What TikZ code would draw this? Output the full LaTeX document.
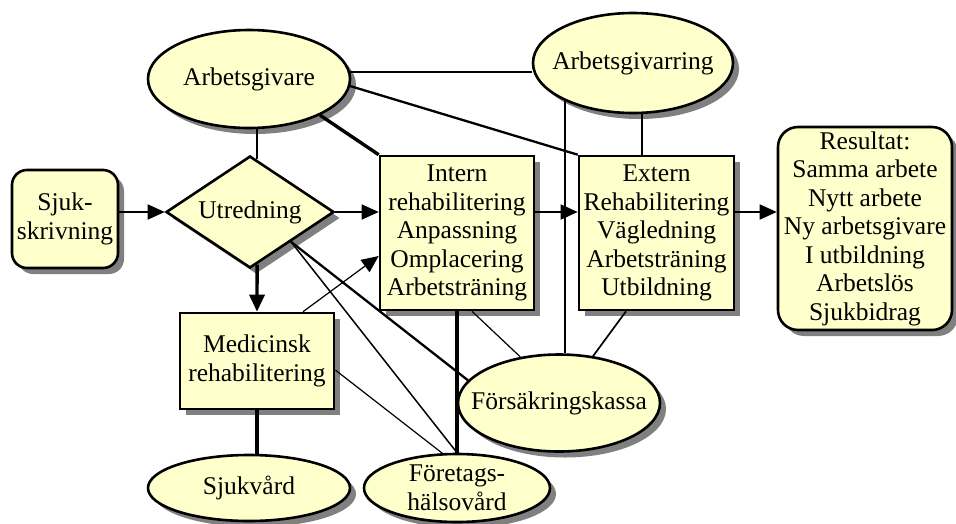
\documentclass[tikz,border=0pt]{standalone}
\usepackage{fontspec}
\setmainfont{Liberation Serif}
\usetikzlibrary{shapes.geometric,arrows.meta,shadows,calc}
\definecolor{fillc}{RGB}{255,255,204}
\begin{document}
\begin{tikzpicture}[x=1pt,y=-1pt,
  every node/.style={font=\fontsize{25.5}{28.5}\selectfont, align=center, inner sep=0pt},
  shapebase/.style={draw=black, line width=2.6pt, fill=fillc,
    drop shadow={shadow xshift=6pt, shadow yshift=-6pt, opacity=1, fill=black!50}},
  boxnode/.style={shapebase, rectangle},
  ellnode/.style={shapebase, ellipse, inner xsep=-50pt, inner ysep=-10pt},
  lthin/.style={line width=1.2pt},
  lnorm/.style={line width=1.7pt},
  lmid/.style={line width=2.3pt},
  lthick/.style={line width=3.4pt},
  arr/.style={-{Triangle[length=17pt,width=15pt]}},
]
\useasboundingbox (0,0) rectangle (956,523);

% nodes
\node[boxnode, rounded corners=15pt, minimum width=106pt, minimum height=98pt] (sjuk) at (65,219) {Sjuk-\\skrivning};
\node[shapebase, diamond, aspect=1.5, minimum width=168pt, minimum height=112pt] (utr) at (250,212) {Utredning};
\node[ellnode, minimum width=202pt, minimum height=98pt] (arbg) at (249,79) {Arbetsgivare};
\node[ellnode, minimum width=200pt, minimum height=100pt] (arbring) at (633,63) {Arbetsgivarring};
\node[boxnode, minimum width=154pt, minimum height=154pt] (intern) at (457,233) {Intern\\rehabilitering\\Anpassning\\Omplacering\\Arbetsträning};
\node[boxnode, minimum width=155pt, minimum height=154pt] (extern) at (656.5,233) {Extern\\Rehabilitering\\Vägledning\\Arbetsträning\\Utbildning};
\node[boxnode, rounded corners=20pt, minimum width=174pt, minimum height=203pt] (res) at (865,228.5) {Resultat:\\Samma arbete\\Nytt arbete\\Ny arbetsgivare\\I utbildning\\Arbetslös\\Sjukbidrag};
\node[boxnode, minimum width=154pt, minimum height=96pt] (med) at (257,361) {Medicinsk\\rehabilitering};
\node[ellnode, minimum width=202pt, minimum height=97pt] (fk) at (559,403) {Försäkringskassa};
\node[ellnode, minimum width=202pt, minimum height=66pt] (sjukv) at (249,488) {Sjukvård};
\node[ellnode, minimum width=186pt, minimum height=68pt] (fhv) at (457,488) {Företags-\\hälsovård};

% helper coordinates on borders
\coordinate (utrn) at ($(utr.north)!0.083!(utr.east)$);
\coordinate (utrs) at ($(utr.south)!0.083!(utr.east)$);
\coordinate (arb2) at ([xshift=9pt]arbring.south);

% main flow
\draw[lnorm,arr] (sjuk.east |- utr.west) -- (utr.west);
\draw[lnorm,arr] (utr.east) -- (utr.east -| intern.west);
\draw[lnorm,arr] (utr.east -| intern.east) -- (utr.east -| extern.west);
\draw[lnorm,arr] (utr.east -| extern.east) -- (utr.east -| res.west);
\draw[lthick,arr] (utrs) -- (med.north);

% Arbetsgivare links
\draw[lnorm] (utrn) -- (utrn |- arbg.south);
\draw[lthick] (arbg.-27) -- (intern.north west);
\draw[lnorm] (arbg.4) -- (arbg.4 -| arbring.west);
\draw[lmid] (arbg.-4.5) -- (extern.north west);

% Arbetsgivarring links
\draw[lnorm] (arbring.-151.6) -- (arbring.-151.6 |- fk.north);
\draw[lnorm] (arb2) -- (arb2 |- extern.north);

% lower links
\draw[lthick] (intern.south) -- (fhv.north);
\draw[lthick] (med.south) -- (med.south |- sjukv.north);
\draw[lthin] ([yshift=-9pt]med.east) -- (fhv.113);
\draw[line width=1.5pt] (utr.-36.9) -- (fhv.north);
\draw[lmid] (utr.-36.9) -- (fk.166);
\draw[lthin,arr] ([xshift=46pt]med.north) -- ([yshift=-23pt]intern.west);
\draw[lthin] ([xshift=15pt]intern.south) -- (fk.130);
\draw[lnorm] ([xshift=-30.5pt]extern.south) -- (fk.54);
\end{tikzpicture}
\end{document}
